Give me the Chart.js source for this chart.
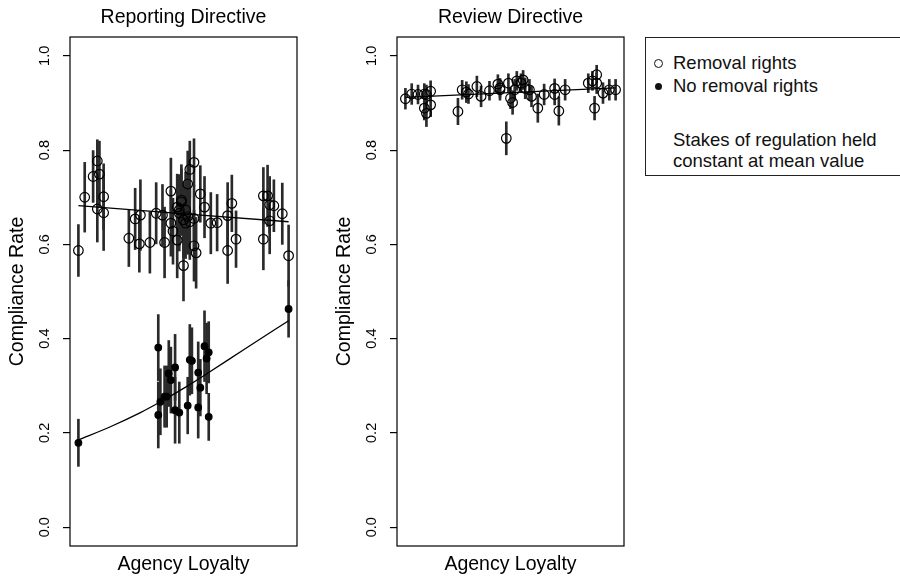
<!DOCTYPE html>
<html>
<head>
<meta charset="utf-8">
<script src="https://cdn.jsdelivr.net/npm/chart.js@4.4.1/dist/chart.umd.min.js"></script>
<style>
	body { margin: 0; background: #fff; width: 900px; height: 576px; overflow: hidden; position: relative; font-family: 'Liberation Sans', Arial, sans-serif; }
	canvas { position: absolute; top: 0; }
	#legend { position: absolute; left: 645px; top: 37px; width: 280px; height: 139px; border: 1.3px solid #222; box-sizing: border-box; background: #fff; }
	.row { position: absolute; left: 27px; font-size: 18.5px; line-height: 20px; color: #111; white-space: nowrap; }
	.sym { position: absolute; left: 8px; box-sizing: border-box; border-radius: 50%; }
</style>
</head>
<body>
<canvas id="reporting" width="310" height="576" style="left:0px"></canvas>
<canvas id="review" width="310" height="576" style="left:327px"></canvas>
<div id="legend">
	<span class="sym" style="top:21px;width:9px;height:9px;border:1.3px solid #111"></span>
	<div class="row" style="top:15px">Removal rights</div>
	<span class="sym" style="top:45px;left:9px;width:7px;height:7px;background:#111"></span>
	<div class="row" style="top:38px">No removal rights</div>
	<div class="row" style="top:92px">Stakes of regulation held</div>
	<div class="row" style="top:113px">constant at mean value</div>
</div>
<script>
// Reporting directive, agencies with removal rights (open circles)
const reportOpenLoyalty = [0.00, 0.03, 0.07, 0.09, 0.10, 0.09, 0.12, 0.12, 0.24, 0.27, 0.29, 0.295, 0.34, 0.37, 0.40, 0.41,
	0.44, 0.44, 0.45, 0.47, 0.47, 0.48, 0.49, 0.50, 0.50, 0.51, 0.52, 0.52, 0.53, 0.53, 0.55, 0.55, 0.55, 0.56,
	0.58, 0.60, 0.63, 0.66, 0.71, 0.71, 0.73, 0.75, 0.88, 0.88, 0.90, 0.91, 0.91, 0.93, 0.97, 1.00, 0.48, 0.49, 0.51];
const reportOpenRate = [0.587, 0.700, 0.744, 0.777, 0.749, 0.675, 0.701, 0.667, 0.613, 0.654, 0.601, 0.662, 0.604, 0.666, 0.662, 0.604,
	0.713, 0.645, 0.628, 0.609, 0.679, 0.666, 0.694, 0.652, 0.555, 0.673, 0.659, 0.728, 0.759, 0.648, 0.597, 0.655, 0.774, 0.582,
	0.707, 0.679, 0.645, 0.646, 0.661, 0.587, 0.687, 0.611, 0.703, 0.611, 0.703, 0.650, 0.684, 0.682, 0.665, 0.576, 0.673, 0.690, 0.645];
const reportOpenErr = [0.055, 0.074, 0.055, 0.045, 0.070, 0.070, 0.070, 0.080, 0.060, 0.065, 0.060, 0.075, 0.065, 0.065, 0.065, 0.075,
	0.070, 0.070, 0.070, 0.080, 0.070, 0.080, 0.075, 0.080, 0.075, 0.080, 0.080, 0.070, 0.060, 0.080, 0.075, 0.070, 0.050, 0.075,
	0.060, 0.065, 0.065, 0.060, 0.070, 0.070, 0.060, 0.060, 0.060, 0.065, 0.065, 0.070, 0.060, 0.055, 0.065, 0.065, 0.075, 0.070, 0.075];

// Reporting directive, no removal rights (filled circles)
const reportClosedLoyalty = [0.00, 0.38, 0.38, 0.39, 0.41, 0.42, 0.43, 0.44, 0.46, 0.46, 0.48, 0.52, 0.53, 0.54, 0.57, 0.57,
	0.58, 0.60, 0.61, 0.62, 0.62, 1.00];
const reportClosedRate = [0.179, 0.381, 0.238, 0.266, 0.277, 0.277, 0.326, 0.312, 0.339, 0.248, 0.243, 0.258, 0.355, 0.353, 0.328, 0.254,
	0.296, 0.384, 0.358, 0.371, 0.234, 0.463];
const reportClosedErr = [0.050, 0.070, 0.070, 0.070, 0.065, 0.065, 0.070, 0.070, 0.070, 0.070, 0.065, 0.060, 0.075, 0.070, 0.065, 0.065,
	0.060, 0.075, 0.075, 0.065, 0.050, 0.060];

// Review directive, removal rights
const reviewLoyalty = [0.00, 0.03, 0.06, 0.09, 0.10, 0.09, 0.10, 0.12, 0.12, 0.25, 0.27, 0.29, 0.30, 0.34, 0.36, 0.40,
	0.44, 0.45, 0.45, 0.48, 0.49, 0.50, 0.51, 0.52, 0.53, 0.55, 0.56, 0.57, 0.59, 0.60, 0.63, 0.66, 0.71, 0.71,
	0.73, 0.76, 0.87, 0.89, 0.91, 0.90, 0.91, 0.94, 0.97, 1.00];
const reviewRate = [0.909, 0.919, 0.918, 0.919, 0.918, 0.889, 0.878, 0.925, 0.896, 0.882, 0.928, 0.923, 0.919, 0.935, 0.914, 0.926,
	0.940, 0.928, 0.932, 0.825, 0.942, 0.910, 0.901, 0.928, 0.947, 0.942, 0.949, 0.931, 0.928, 0.914, 0.889, 0.918, 0.931, 0.918,
	0.883, 0.928, 0.942, 0.947, 0.960, 0.889, 0.942, 0.921, 0.928, 0.928];
const reviewErr = [0.022, 0.022, 0.020, 0.022, 0.020, 0.025, 0.028, 0.022, 0.025, 0.028, 0.020, 0.022, 0.020, 0.022, 0.022, 0.020,
	0.020, 0.022, 0.020, 0.035, 0.020, 0.022, 0.025, 0.022, 0.020, 0.020, 0.020, 0.022, 0.022, 0.022, 0.030, 0.022, 0.020, 0.022,
	0.030, 0.022, 0.020, 0.020, 0.020, 0.025, 0.022, 0.022, 0.022, 0.022];

// fitted lines
const reportFitOpenLoyalty = [0, 1];
const reportFitOpenRate = [0.682, 0.648];
const reportFitClosedLoyalty = [0, 0.152, 0.295, 0.391, 0.51, 0.62, 0.788, 1];
const reportFitClosedRate = [0.185, 0.213, 0.243, 0.266, 0.297, 0.328, 0.377, 0.438];
const reviewFitLoyalty = [0, 1];
const reviewFitRate = [0.912, 0.932];

const yTicks = [0, 0.2, 0.4, 0.6, 0.8, 1.0];

Chart.defaults.font.family = "'Liberation Sans', Arial, sans-serif";
Chart.defaults.color = '#000';

// R style frame round the plot region
const boxPlugin = {
	id: 'box',
	afterDraw(chart) {
		const a = chart.chartArea;
		const ctx = chart.ctx;
		ctx.save();
		ctx.strokeStyle = '#000';
		ctx.lineWidth = 1.2;
		ctx.strokeRect(a.left, a.top, a.right - a.left, a.bottom - a.top);
		ctx.restore();
	}
};

function points(xs, ys) {
	return xs.map(function(x, i) {
		return {x: x, y: ys[i]};
	});
}

function errorSet(xs, ys, es) {
	return {
		type: 'bar',
		data: xs.map(function(x, i) {
			return {x: x, y: [ys[i] - es[i], ys[i] + es[i]]};
		}),
		backgroundColor: '#2a2a2a',
		barThickness: 2,
		grouped: false,
		order: 3
	};
}

function pointSet(xs, ys, filled) {
	return {
		type: 'scatter',
		data: points(xs, ys),
		pointRadius: filled ? 3.3 : 4.8,
		pointBorderWidth: 1.2,
		pointBorderColor: '#000',
		pointBackgroundColor: filled ? '#000' : 'rgba(0,0,0,0)',
		showLine: false,
		order: 1
	};
}

function fitSet(xs, ys) {
	return {
		type: 'scatter',
		data: points(xs, ys),
		showLine: true,
		borderColor: '#000',
		borderWidth: 1.3,
		pointRadius: 0,
		cubicInterpolationMode: 'monotone',
		order: 2
	};
}

function makePanel(id, title, datasets) {
	return new Chart(document.getElementById(id).getContext('2d'), {
		type: 'scatter',
		data: {datasets: datasets},
		plugins: [boxPlugin],
		options: {
			responsive: false,
			animation: false,
			devicePixelRatio: 1,
			layout: {padding: {left: 0, right: 13, top: 0, bottom: 0}},
			plugins: {
				legend: {display: false},
				tooltip: {enabled: false},
				title: {
					display: true,
					fullSize: false, // centre over the plot region only
					text: title,
					color: '#000',
					font: {size: 19.5, weight: 'normal'},
					padding: {top: 6, bottom: 7.6}
				}
			},
			scales: {
				x: {
					type: 'linear',
					min: -0.04,
					max: 1.04,
					offset: false,
					afterFit: function(scale) { scale.height = 30; },
					ticks: {display: false},
					grid: {display: false, offset: false},
					border: {display: false},
					title: {display: true, text: 'Agency Loyalty', color: '#000', font: {size: 19.5}, padding: {top: 0, bottom: 0}}
				},
				y: {
					type: 'linear',
					min: -0.04,
					max: 1.04,
					afterBuildTicks: function(scale) {
						scale.ticks = yTicks.map(function(v) { return {value: v}; });
					},
					afterFit: function(scale) { scale.width = 70; },
					ticks: {
						minRotation: 90,
						maxRotation: 90,
						crossAlign: 'center',
						padding: 8,
						color: '#000',
						font: {size: 14.5},
						callback: function(v) { return v.toFixed(1); }
					},
					grid: {display: true, drawOnChartArea: false, drawTicks: true, tickLength: 7, color: '#000', lineWidth: 1.2},
					border: {display: false},
					title: {display: true, text: 'Compliance Rate', color: '#000', font: {size: 19.5}, padding: {top: 6, bottom: 0}}
				}
			}
		}
	});
}

makePanel('reporting', 'Reporting Directive', [
	pointSet(reportOpenLoyalty, reportOpenRate, false),
	pointSet(reportClosedLoyalty, reportClosedRate, true),
	fitSet(reportFitOpenLoyalty, reportFitOpenRate),
	fitSet(reportFitClosedLoyalty, reportFitClosedRate),
	errorSet(reportOpenLoyalty, reportOpenRate, reportOpenErr),
	errorSet(reportClosedLoyalty, reportClosedRate, reportClosedErr)
]);

makePanel('review', 'Review Directive', [
	pointSet(reviewLoyalty, reviewRate, false),
	fitSet(reviewFitLoyalty, reviewFitRate),
	errorSet(reviewLoyalty, reviewRate, reviewErr)
]);
</script>
</body>
</html>
